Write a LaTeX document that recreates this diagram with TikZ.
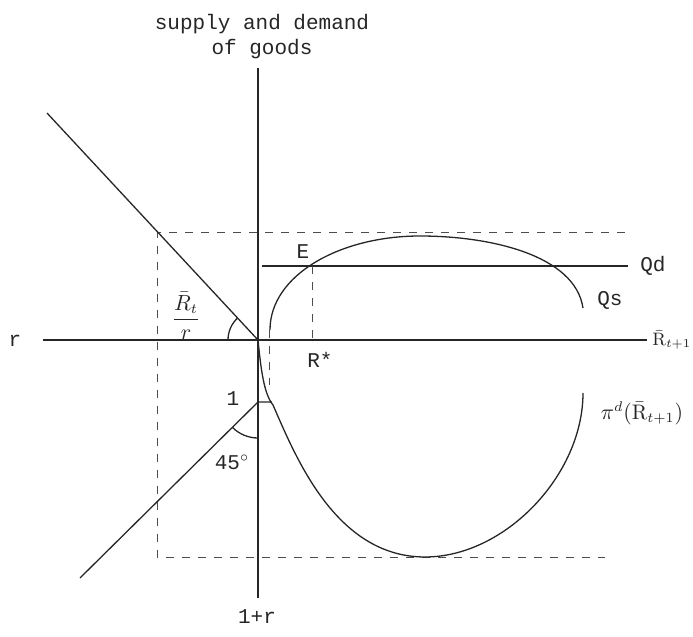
\documentclass[tikz,border=0pt]{standalone}
\usepackage{fontspec}
\setmonofont{Liberation Mono}
\usetikzlibrary{calc}

\begin{document}
\begin{tikzpicture}[
      x=0.5pt, y=-0.5pt,
      every node/.style={font=\ttfamily\fontsize{10.5}{12.5}\selectfont, text=black!85},
      axis/.style={line width=0.75pt, draw=black!85},
      curve/.style={line width=0.65pt, draw=black!85},
      guide/.style={line width=0.5pt, draw=black!70, dash pattern=on 4pt off 4pt},
    ]
    \useasboundingbox (0,0) rectangle (693,637);

    % axes
    \coordinate (O) at (258,340);
    \coordinate (ytop) at (258,68);
    \coordinate (ybot) at (258,598);
    \coordinate (xleft) at (43,340);
    \coordinate (xright) at (647,340);
    \draw[axis] (ytop) -- (ybot);
    \draw[axis] (xleft) -- (xright);
    \node[align=center] (goods) at (262,37) {supply and demand\\of goods};
    \node (onepr) at (257,617) {1+r};
    \node (rlab) at (15,341) {r};
    \node[anchor=west, inner sep=1pt, font=\fontsize{9}{10}\selectfont] (rbar) at (650,340) {$\bar{\mathrm{R}}_{t+1}$};

    % dashed frame
    \coordinate (fa) at (158,233);
    \coordinate (fb) at (625,233);
    \coordinate (fc) at (158,558);
    \coordinate (fd) at (605,558);
    \draw[guide] (fb) -- (fa) -- (fc) -- (fd);

    % left rays
    \coordinate (ul) at (47,113);
    \coordinate (one) at (258,402);
    \coordinate (ll) at (80,578);
    \coordinate (onet) at (272,402);
    \draw[curve] (ul) -- (O);
    \draw[curve] (ll) -- (one) -- (onet);
    \draw[curve] (O) ++(180:30) arc[start angle=180, end angle=227, radius=30];
    \draw[curve] (one) ++(135:36) arc[start angle=135, end angle=90, radius=36];
    \node (slope) at (186,316) {$\displaystyle\frac{\bar{R}_t}{r}$};
    \node (onelab) at (233,399) {1};
    \node (deg) at (232,462) {45$^\circ$};

    % demand and supply
    \coordinate (qd0) at (262,266);
    \coordinate (qd1) at (628,266);
    \coordinate (E) at (313,266);
    \coordinate (Rs) at (313,340);
    \draw[curve] (qd0) -- (qd1);
    \draw[guide] (E) -- (Rs);
    \node (qd) at (653,266) {Qd};
    \node (qs) at (610,300) {Qs};
    \node (elab) at (303,252) {E};
    \node (rstar) at (320,360) {R*};

    \coordinate (qs0) at (270,330);
    \coordinate (qstop) at (420,236);
    \coordinate (qs1) at (583,308);
    \draw[curve] (qs0) .. controls (270,275) and (340,236) .. (qstop)
                       .. controls (490,236) and (575,255) .. (qs1);
    \draw[guide] (qs0) -- (270,385);

    \coordinate (pd0) at (273,405);
    \coordinate (pdlow) at (425,557);
    \coordinate (pd1) at (583,393);
    \draw[curve] (O) .. controls (261,370) and (264,394) .. (pd0)
                     .. controls (295,455) and (335,557) .. (pdlow)
                     .. controls (505,557) and (583,475) .. (pd1);
    \node (pid) at (642,413) {$\pi^d(\bar{\mathrm{R}}_{t+1})$};
  \end{tikzpicture}
\end{document}
